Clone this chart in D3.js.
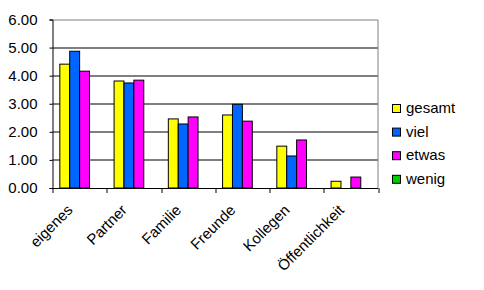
<!DOCTYPE html>
<html>
<head>
<meta charset="utf-8">
<script src="https://cdn.jsdelivr.net/npm/d3@7"></script>
<style>
  body { margin: 0; background: #fff; }
  text { font-family: "Liberation Sans", Arial, sans-serif; }
</style>
</head>
<body>
<div id="chart"></div>
<script>
// data
var categories = ['eigenes', 'Partner', 'Familie', 'Freunde', 'Kollegen', 'Öffentlichkeit']
var seriesNames = ['gesamt', 'viel', 'etwas', 'wenig']
var gesamt = [4.41, 3.81, 2.46, 2.60, 1.49, 0.24]
var viel = [4.87, 3.74, 2.28, 2.98, 1.14, 0]
var etwas = [4.16, 3.84, 2.53, 2.38, 1.71, 0.39]
var wenig = [0, 0, 0, 0, 0, 0]
var yTicks = [0, 1, 2, 3, 4, 5, 6]

var colors = {gesamt: '#ffff00', viel: '#0066ff', etwas: '#ff00ff', wenig: '#00cc00'}
var values = {gesamt: gesamt, viel: viel, etwas: etwas, wenig: wenig}

var width = 484, height = 290
var margin = {top: 19.5, right: 106, bottom: 102, left: 52.5}
var plotW = width - margin.left - margin.right
var plotH = height - margin.top - margin.bottom

var svg = d3.select('#chart').append('svg')
  .attr('width', width)
  .attr('height', height)

var g = svg.append('g')
  .attr('transform', 'translate(' + margin.left + ',' + margin.top + ')')

var x0 = d3.scaleBand()
  .domain(categories)
  .range([0, plotW])
  .padding(0)

var x1 = d3.scaleBand()
  .domain(seriesNames)
  .range([0, x0.bandwidth()])
  .paddingInner(0)
  .paddingOuter(0.74)

var yScale = d3.scaleLinear()
  .domain([0, 6])
  .range([plotH, 0])

// grid lines
g.selectAll('.grid')
  .data(yTicks.filter(d => d > 0 && d < 6))
  .enter().append('line')
  .attr('x1', 0)
  .attr('x2', plotW)
  .attr('y1', d => Math.round(yScale(d)) + 0.5)
  .attr('y2', d => Math.round(yScale(d)) + 0.5)
  .attr('stroke', '#000')

// gray frame top/right
g.append('path')
  .attr('d', 'M0,0.5H' + plotW + 'V' + plotH)
  .attr('fill', 'none')
  .attr('stroke', '#808080')

// bars
var groups = g.selectAll('.grp')
  .data(categories)
  .enter().append('g')
  .attr('transform', d => 'translate(' + x0(d) + ',0)')

groups.selectAll('rect')
  .data((d, i) => seriesNames.map(s => ({s: s, v: values[s][i]})).filter(e => e.v > 0))
  .enter().append('rect')
  .attr('x', d => x1(d.s))
  .attr('y', d => yScale(d.v))
  .attr('width', x1.bandwidth())
  .attr('height', d => plotH - yScale(d.v))
  .attr('fill', d => colors[d.s])
  .attr('stroke', '#000')
  .attr('stroke-width', 1)

// y axis
var yAxis = d3.axisLeft(yScale)
  .tickValues(yTicks)
  .tickSize(3)
  .tickPadding(12)
  .tickFormat(d3.format('.2f'))

var ya = g.append('g').call(yAxis)
ya.selectAll('text').attr('font-size', 15).attr('fill', '#000').style('font-family', '"Liberation Sans", Arial, sans-serif')
ya.selectAll('line,path').attr('stroke', '#000')

// x axis
var xAxis = d3.axisBottom(x0)
  .tickSize(0)
  .tickFormat('')

var xa = g.append('g')
  .attr('transform', 'translate(0,' + plotH + ')')
  .call(xAxis)
xa.select('path').attr('stroke', '#000').attr('d', 'M0,0.5H' + plotW)

// tick marks on category boundaries
xa.selectAll('.bound')
  .data(d3.range(categories.length + 1))
  .enter().append('line')
  .attr('x1', i => Math.round(i * x0.step()) + 0.5)
  .attr('x2', i => Math.round(i * x0.step()) + 0.5)
  .attr('y1', 0)
  .attr('y2', 5)
  .attr('stroke', '#000')

// rotated category labels
g.selectAll('.xlab')
  .data(categories)
  .enter().append('text')
  .attr('transform', d => 'translate(' + (x0(d) + x0.bandwidth() / 2 - 6) + ',' + (plotH + 23) + ') rotate(-45)')
  .attr('text-anchor', 'end')
  .attr('font-size', 15)
  .text(d => d)

// legend
var legend = svg.append('g')
  .attr('transform', 'translate(392,104)')

var items = legend.selectAll('g')
  .data(seriesNames)
  .enter().append('g')
  .attr('transform', (d, i) => 'translate(0,' + (i * 23.6) + ')')

items.append('rect')
  .attr('x', 0.5)
  .attr('y', 0.5)
  .attr('width', 8)
  .attr('height', 8)
  .attr('fill', d => colors[d])
  .attr('stroke', '#000')

items.append('text')
  .attr('x', 14)
  .attr('y', 9)
  .attr('font-size', 15)
  .text(d => d)
</script>
</body>
</html>
